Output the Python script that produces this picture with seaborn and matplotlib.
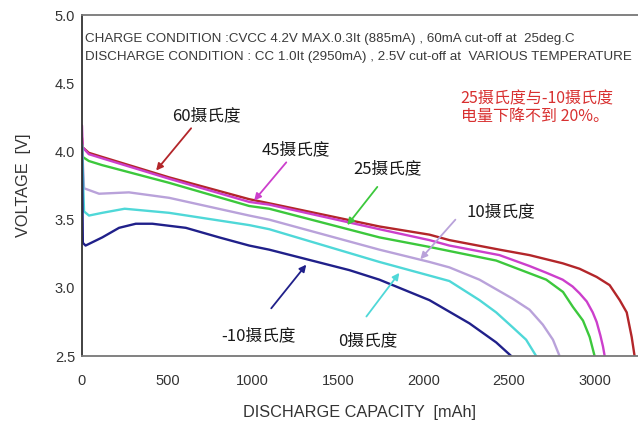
import numpy as np
import pandas as pd
import matplotlib
matplotlib.use("Agg")
import matplotlib.pyplot as plt
import seaborn as sns

# Discharge curves (capacity in mAh, voltage in V) at each temperature
cap_60 = [0, 4, 40, 117, 510, 979, 1096, 1741, 2034, 2151, 2444, 2620, 2814, 2913, 3013, 3089, 3148, 3189, 3218, 3235]
volt_60 = [4.10, 4.03, 3.99, 3.96, 3.81, 3.65, 3.62, 3.45, 3.39, 3.35, 3.28, 3.24, 3.18, 3.14, 3.08, 3.02, 2.91, 2.82, 2.64, 2.50]

cap_45 = [0, 4, 40, 117, 510, 979, 1096, 1741, 2034, 2151, 2444, 2620, 2720, 2814, 2872, 2913, 2955, 2990, 3013, 3035, 3050, 3060]
volt_45 = [4.19, 4.03, 3.98, 3.95, 3.80, 3.63, 3.61, 3.43, 3.35, 3.31, 3.24, 3.16, 3.11, 3.06, 3.01, 2.96, 2.90, 2.82, 2.75, 2.65, 2.57, 2.50]

cap_25 = [0, 4, 40, 117, 510, 979, 1096, 1741, 2034, 2151, 2425, 2718, 2816, 2874, 2933, 2972, 3001]
volt_25 = [4.05, 3.96, 3.93, 3.90, 3.77, 3.60, 3.58, 3.37, 3.30, 3.27, 3.20, 3.06, 2.97, 2.86, 2.76, 2.64, 2.50]

cap_10 = [0, 12, 100, 275, 510, 979, 1096, 1741, 2034, 2151, 2327, 2522, 2620, 2698, 2757, 2796]
volt_10 = [4.05, 3.73, 3.69, 3.70, 3.66, 3.53, 3.50, 3.28, 3.19, 3.15, 3.06, 2.92, 2.84, 2.73, 2.62, 2.50]

cap_0 = [0, 12, 41, 119, 250, 510, 979, 1096, 1741, 2034, 2151, 2327, 2425, 2522, 2600, 2659]
volt_0 = [4.05, 3.56, 3.53, 3.55, 3.58, 3.55, 3.46, 3.43, 3.19, 3.09, 3.05, 2.91, 2.82, 2.71, 2.62, 2.50]

cap_m10 = [0, 5, 21, 119, 217, 315, 412, 608, 803, 979, 1096, 1565, 1741, 2034, 2268, 2425, 2513]
volt_m10 = [4.03, 3.33, 3.31, 3.37, 3.44, 3.47, 3.47, 3.44, 3.37, 3.31, 3.28, 3.13, 3.06, 2.91, 2.74, 2.60, 2.50]

series_names = ["60摄氏度", "45摄氏度", "25摄氏度", "10摄氏度", "0摄氏度", "-10摄氏度"]
series_caps = [cap_60, cap_45, cap_25, cap_10, cap_0, cap_m10]
series_volts = [volt_60, volt_45, volt_25, volt_10, volt_0, volt_m10]
series_colors = ["#b3262a", "#cc3fcc", "#3cc83c", "#b9a2da", "#4fd8d8", "#20208a"]

x_ticks = [0, 500, 1000, 1500, 2000, 2500, 3000]
y_ticks = [2.5, 3.0, 3.5, 4.0, 4.5, 5.0]

frames = []
for name, c, v in zip(series_names, series_caps, series_volts):
    frames.append(pd.DataFrame({"capacity": c, "voltage": v, "temp": name}))
df = pd.concat(frames, ignore_index=True)

sns.set_theme(style="white")
plt.rcParams["font.family"] = ["Liberation Sans", "Noto Sans CJK SC", "DejaVu Sans"]

fig = plt.figure(figsize=(6.38, 4.29), dpi=100)
ax = fig.add_axes([0.1285, 0.170, 0.8715, 0.795])

sns.lineplot(data=df, x="capacity", y="voltage", hue="temp",
             palette=dict(zip(series_names, series_colors)),
             sort=False, estimator=None, linewidth=1.7, legend=False, ax=ax)

ax.set_xlim(0, 3255)
ax.set_ylim(2.5, 5.0)
ax.set_xticks(x_ticks)
ax.set_yticks(y_ticks)
ax.set_yticklabels([f"{t:.1f}" for t in y_ticks])
ax.tick_params(axis="both", direction="in", length=4, width=1, colors="#888888",
               labelcolor="#333333", labelsize=10.5)
ax.tick_params(axis="x", pad=13)
ax.tick_params(axis="y", pad=5)

for side in ["left", "bottom", "top"]:
    ax.spines[side].set_visible(True)
    ax.spines[side].set_linewidth(1.3)
ax.spines["left"].set_color("#333333")
ax.spines["bottom"].set_color("#777777")
ax.spines["top"].set_color("#777777")
ax.spines["right"].set_visible(False)

ax.set_xlabel("DISCHARGE CAPACITY  [mAh]", fontsize=11.7, color="#333333", labelpad=12)
ax.set_ylabel("VOLTAGE  [V]", fontsize=11.7, color="#333333", labelpad=17)

cjk = ["Noto Sans CJK SC", "DejaVu Sans"]

ax.text(18, 4.825, "CHARGE CONDITION :CVCC 4.2V MAX.0.3It (885mA) , 60mA cut-off at  25deg.C",
        fontsize=9.6, color="#3a3a3a", va="center", ha="left")
ax.text(18, 4.695, "DISCHARGE CONDITION : CC 1.0It (2950mA) , 2.5V cut-off at  VARIOUS TEMPERATURE",
        fontsize=9.6, color="#3a3a3a", va="center", ha="left")

ax.text(2216, 4.32, "25摄氏度与-10摄氏度\n电量下降不到 20%。", family=cjk,
        fontsize=11.5, color="#d83030", va="center", ha="left", linespacing=1.05)

# Curve labels with arrows pointing at each curve
label_text = ["60摄氏度", "45摄氏度", "25摄氏度", "10摄氏度", "0摄氏度", "-10摄氏度"]
label_pos = [(730, 4.26), (1254, 4.01), (1788, 3.87), (2450, 3.56), (1670, 2.61), (1032, 2.65)]
arrow_tails = [(639, 4.17), (1196, 3.92), (1729, 3.74), (2186, 3.50), (1665, 2.79), (1108, 2.85)]
arrow_tips = [(434, 3.86), (1008, 3.64), (1553, 3.46), (1981, 3.21), (1858, 3.11), (1313, 3.17)]
for text, pos, tail, tip, color in zip(label_text, label_pos, arrow_tails, arrow_tips, series_colors):
    ax.annotate("", xy=tip, xytext=tail,
                arrowprops=dict(arrowstyle="-|>", color=color, lw=1.3,
                                mutation_scale=10, shrinkA=0, shrinkB=0))
    ax.text(pos[0], pos[1], text, family=cjk, fontsize=12, color="#1a1a1a",
            ha="center", va="center")

fig.savefig("out.png", dpi=100)
